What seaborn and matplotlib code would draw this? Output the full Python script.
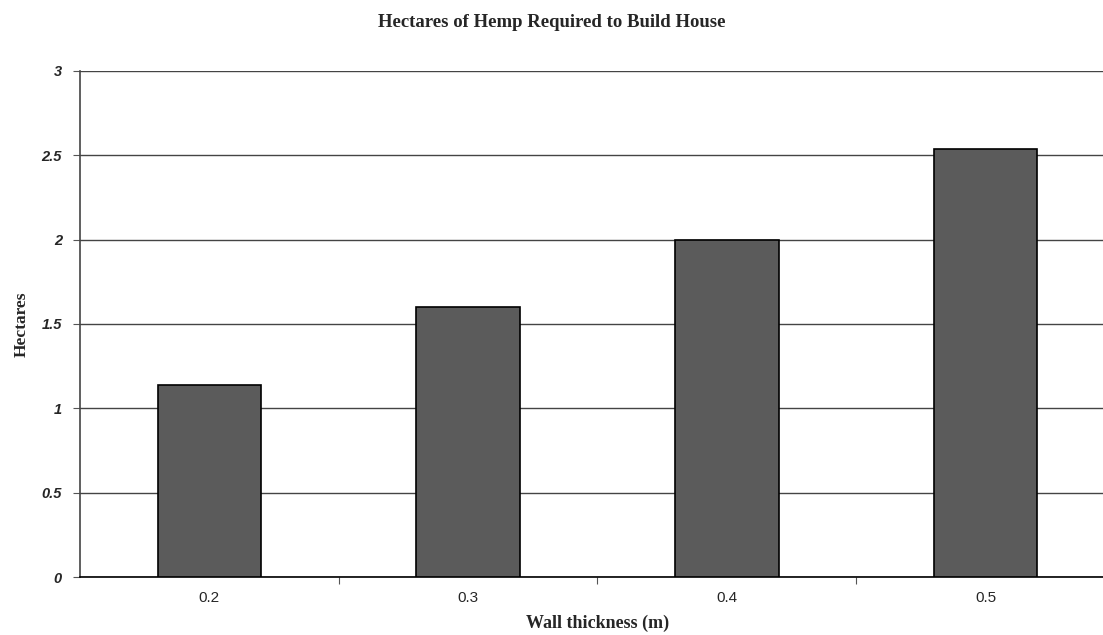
import matplotlib
matplotlib.use("Agg")
import matplotlib.pyplot as plt
import seaborn as sns
import pandas as pd
from matplotlib.ticker import FixedLocator

# --- data ---
thickness = ["0.2", "0.3", "0.4", "0.5"]
hectares = [1.14, 1.60, 2.00, 2.54]
y_ticks = [0, 0.5, 1, 1.5, 2, 2.5, 3]
y_tick_labels = ["0", "0.5", "1", "1.5", "2", "2.5", "3"]

df = pd.DataFrame({"Wall thickness (m)": thickness, "Hectares": hectares})

sns.set_style("white")

fig = plt.figure(figsize=(11.03, 6.35), dpi=100)
# plot area runs past the right edge of the image, as in the reference
ax = fig.add_axes([0.0725, 0.0913, 0.9384, 0.797])

sns.barplot(data=df, x="Wall thickness (m)", y="Hectares", color="#5b5b5b",
            saturation=1, width=0.4, edgecolor="black", linewidth=1.2, ax=ax,
            zorder=3)

ax.set_ylim(0, 3)
ax.set_xlim(-0.5, len(thickness) - 0.5)
ax.set_yticks(y_ticks)
ax.set_yticklabels(y_tick_labels, fontfamily="Liberation Sans",
                   fontweight="bold", fontstyle="italic", fontsize=10.5)
for lbl in ax.get_xticklabels():
    lbl.set_fontfamily("Liberation Sans")
    lbl.set_fontsize(11)

# horizontal gridlines
ax.yaxis.grid(True, color="#444444", linewidth=1.0)
ax.set_axisbelow(True)

# category-boundary ticks on x axis
ax.xaxis.set_minor_locator(FixedLocator([0.5, 1.5, 2.5]))
ax.tick_params(axis="x", which="major", length=0, pad=10)
ax.tick_params(axis="x", which="minor", length=5, width=0.8, color="#555555",
               direction="out", bottom=True)
ax.tick_params(axis="y", length=5, width=0.8, color="#555555",
               direction="out", left=True, pad=8)

for side in ["top", "right"]:
    ax.spines[side].set_visible(False)
ax.spines["left"].set_color("#444444")
ax.spines["left"].set_linewidth(1.2)
ax.spines["bottom"].set_color("black")
ax.spines["bottom"].set_linewidth(1.2)

ax.set_xlabel("Wall thickness (m)", fontfamily="Liberation Serif",
              fontweight="bold", fontsize=13, labelpad=7)
ax.set_ylabel("Hectares", fontfamily="Liberation Serif",
              fontweight="bold", fontsize=12.5)
ax.yaxis.set_label_coords(-0.049, 0.5)
fig.suptitle("Hectares of Hemp Required to Build House", y=0.978,
             fontfamily="Liberation Serif", fontweight="bold", fontsize=13.5)

fig.savefig("out.png", dpi=100)
